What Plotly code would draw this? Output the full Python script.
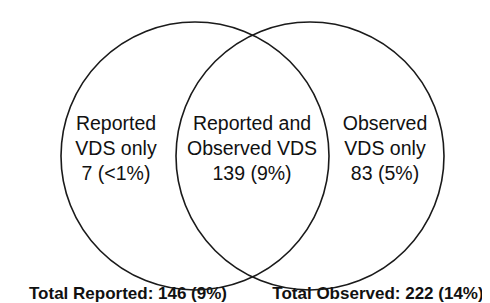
import plotly.graph_objects as go

# Data
region_labels = ["Reported<br>VDS only", "Reported and<br>Observed VDS", "Observed<br>VDS only"]
region_counts = [7, 139, 83]
region_pcts = ["<1%", "9%", "5%"]
total_labels = ["Total Reported", "Total Observed"]
total_counts = [146, 222]
total_pcts = ["9%", "14%"]

W, H = 490, 303
fig = go.Figure()

# Circle geometry (layout)
r = 134
cy = 148
centers = [187, 302]
for cx in centers:
    fig.add_shape(type="circle", xref="x", yref="y",
                  x0=cx - r, x1=cx + r, y0=cy - r, y1=cy + r,
                  line=dict(color="#1a1a1a", width=1.6), fillcolor="rgba(0,0,0,0)")

region_x = [108, 244, 377]
fig.add_trace(go.Scatter(
    x=region_x, y=[cy - 6] * 3, mode="text",
    text=[f"{lab}<br>{c} ({p})" for lab, c, p in zip(region_labels, region_counts, region_pcts)],
    textfont=dict(family="Liberation Sans, Arial", size=19.5, color="#111111"),
    textposition="middle center", hoverinfo="skip", showlegend=False, cliponaxis=False,
))

total_x = [120, 370]
fig.add_trace(go.Scatter(
    x=total_x, y=[287, 287], mode="text",
    text=[f"<b>{lab}: {c} ({p})</b>" for lab, c, p in zip(total_labels, total_counts, total_pcts)],
    textfont=dict(family="Liberation Sans, Arial", size=17, color="#111111"),
    textposition="middle center", hoverinfo="skip", showlegend=False, cliponaxis=False,
))

fig.update_layout(
    width=W, height=H, margin=dict(l=0, r=0, t=0, b=0),
    paper_bgcolor="white", plot_bgcolor="white",
    xaxis=dict(range=[0, W], visible=False, fixedrange=True),
    yaxis=dict(range=[H, 0], visible=False, fixedrange=True),
)
fig.write_html("out.html")
